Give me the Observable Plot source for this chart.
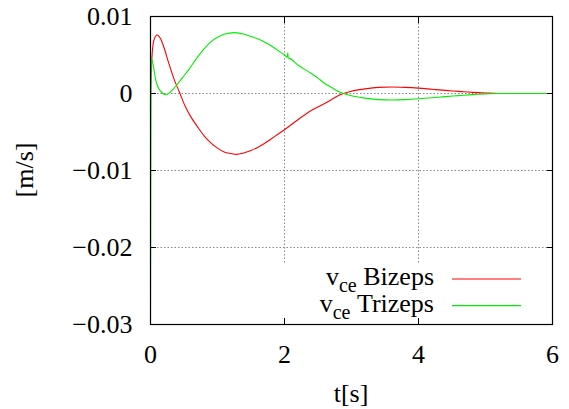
<!DOCTYPE html>
<html><head><meta charset="utf-8">
<script src="https://cdn.jsdelivr.net/npm/d3@7"></script>
<script src="https://cdn.jsdelivr.net/npm/@observablehq/plot@0.6"></script>
<style>body{margin:0;background:#fff} svg{display:block}</style>
</head><body><div id="chart"></div>
<script>
const tBizeps = [0, 0.02, 0.05, 0.1, 0.15, 0.2, 0.27, 0.35, 0.44, 0.52, 0.6, 0.7, 0.8, 0.9, 1.0, 1.1, 1.2, 1.28, 1.4, 1.5, 1.6, 1.7, 1.8, 1.9, 2.0, 2.2, 2.4, 2.6, 2.7, 2.8, 2.88, 3.0, 3.2, 3.4, 3.6, 3.8, 4.0, 4.2, 4.4, 4.6, 4.8, 5.0, 5.2, 5.5, 6.0];
const vBizeps = [0, 0.0045, 0.0069, 0.0076, 0.0071, 0.0060, 0.0040, 0.0019, 0.0, -0.0017, -0.0030, -0.0043, -0.0055, -0.0064, -0.0071, -0.0076, -0.0078, -0.0079, -0.0077, -0.0074, -0.0070, -0.0065, -0.0059, -0.0053, -0.0047, -0.0034, -0.0022, -0.0013, -0.0008, -0.0003, 0.0, 0.0003, 0.0006, 0.0008, 0.00085, 0.0008, 0.0007, 0.00055, 0.0004, 0.00028, 0.00015, 0.00006, 0.0, 0.0, 0.0];
const tTrizeps = [0, 0.012, 0.05, 0.075, 0.1, 0.15, 0.23, 0.32, 0.42, 0.5, 0.57, 0.7, 0.8, 0.9, 1.0, 1.1, 1.25, 1.4, 1.5, 1.6, 1.7, 1.8, 1.9, 2.0, 2.04, 2.05, 2.055, 2.06, 2.2, 2.4, 2.5, 2.6, 2.69, 2.8, 2.88, 3.0, 3.2, 3.4, 3.6, 3.8, 4.0, 4.2, 4.4, 4.6, 4.8, 5.0, 5.2, 5.5, 6.0];
const vTrizeps = [-0.03, 0.0046, 0.0032, 0.0019, 0.0011, 0.0003, -0.00016, 0.0004, 0.0014, 0.0023, 0.0031, 0.0047, 0.0058, 0.0067, 0.0073, 0.0077, 0.0079, 0.0077, 0.0074, 0.0071, 0.0067, 0.0062, 0.0056, 0.0050, 0.0047, 0.0053, 0.0046, 0.0046, 0.0037, 0.0026, 0.0020, 0.0013, 0.00085, 0.0003, 0.0, -0.0003, -0.0006, -0.0008, -0.00085, -0.0008, -0.00068, -0.00055, -0.0004, -0.00028, -0.00015, -0.00006, 0.0, 0.0, 0.0];
const seriesNames = ["Bizeps", "Trizeps"];
const seriesColors = ["#ff0000", "#00ee00"];
const xTicks = [0, 2, 4, 6];
const xTickLabels = ["0", "2", "4", "6"];
const yTicks = [0.01, 0, -0.01, -0.02, -0.03];
const yTickLabels = ["0.01", "0", "\u22120.01", "\u22120.02", "\u22120.03"];
const xGrid = [2, 4];
const yGrid = [0, -0.01, -0.02];
const xLabel = "t[s]";
const yLabel = "[m/s]";

const rows = [
  ...tBizeps.map((t, i) => ({t, v: vBizeps[i], s: seriesNames[0]})),
  ...tTrizeps.map((t, i) => ({t, v: vTrizeps[i], s: seriesNames[1]}))
];

const FONT = "Liberation Serif";

function legendMark() {
  const g = d3.create("svg:g");
  g.append("rect").attr("x", 280).attr("y", 264).attr("width", 266).attr("height", 54).attr("fill", "white");
  seriesNames.forEach((name, i) => {
    const y = 285 + i * 26.7;
    const t = g.append("text").attr("x", 434).attr("y", y).attr("text-anchor", "end").attr("fill", "black")
      .attr("font-family", FONT).attr("font-size", 26);
    t.append("tspan").text("v");
    t.append("tspan").attr("dy", 7).attr("font-size", 20).text("ce");
    t.append("tspan").attr("dy", -7).text("\u00a0" + name);
    g.append("line").attr("x1", 452).attr("x2", 521).attr("y1", y - 6).attr("y2", y - 6)
      .attr("stroke", seriesColors[i]).attr("stroke-width", 1.2);
  });
  return g.node();
}

function labelMark() {
  const g = d3.create("svg:g").attr("fill", "black").attr("font-family", FONT).attr("font-size", 26);
  g.append("text").attr("x", 351).attr("y", 402).attr("text-anchor", "middle").text(xLabel);
  g.append("text").attr("transform", "translate(33,170) rotate(-90)").attr("text-anchor", "middle").text(yLabel);
  return g.node();
}

const chart = Plot.plot({
  width: 569,
  height: 409,
  marginLeft: 150,
  marginRight: 17,
  marginTop: 16,
  marginBottom: 85,
  style: {background: "white", color: "black", fontFamily: FONT, fontSize: "26px"},
  x: {domain: [0, 6], label: null},
  y: {domain: [-0.03, 0.01], label: null},
  color: {domain: seriesNames, range: seriesColors},
  marks: [
    Plot.gridX(xGrid, {stroke: "#888", strokeOpacity: 1, strokeDasharray: "1.5,2"}),
    Plot.gridY(yGrid, {stroke: "#888", strokeOpacity: 1, strokeDasharray: "1.5,2"}),
    Plot.line(rows, {x: "t", y: "v", z: "s", stroke: "s", strokeWidth: 1.1, curve: "monotone-x", clip: true}),
    legendMark,
    Plot.axisX(xTicks, {anchor: "bottom", tickSize: -6, text: null, label: null}),
    Plot.axisX(xTicks, {anchor: "top", tickSize: -6, text: null, label: null}),
    Plot.axisY(yTicks, {anchor: "left", tickSize: -6, text: null, label: null}),
    Plot.axisY(yTicks, {anchor: "right", tickSize: -6, text: null, label: null}),
    Plot.axisX(xTicks, {anchor: "bottom", tickSize: 0, tickPadding: 20, label: null, fontSize: 26,
      tickFormat: d => xTickLabels[xTicks.indexOf(d)]}),
    Plot.axisY(yTicks, {anchor: "left", tickSize: 0, tickPadding: 18, label: null, fontSize: 26,
      tickFormat: d => yTickLabels[yTicks.indexOf(d)]}),
    labelMark,
    Plot.frame({stroke: "black", strokeWidth: 1.2})
  ]
});
document.getElementById("chart").appendChild(chart);
</script>
</body></html>
